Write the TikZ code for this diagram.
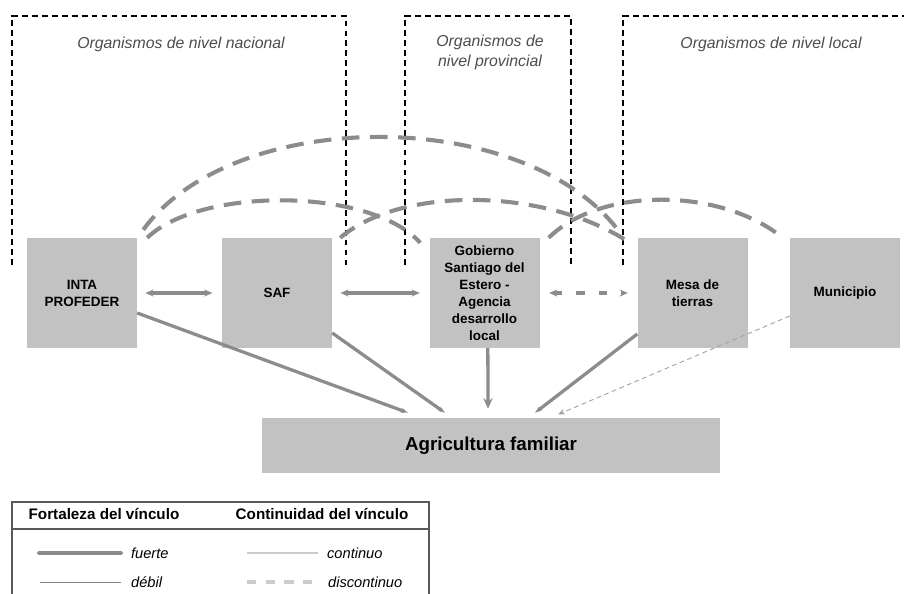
\documentclass[tikz,border=0pt]{standalone}
\usepackage{fontspec}
\setmainfont{Liberation Sans}
\usetikzlibrary{arrows.meta}
\definecolor{cajagris}{gray}{0.76}
\definecolor{lineagris}{gray}{0.55}
\definecolor{textogris}{gray}{0.3}
\tikzset{
  caja/.style={fill=cajagris,inner sep=0pt,minimum width=3.3cm,minimum height=3.3cm,
    align=center,font=\fontsize{11.5}{14.6}\selectfont\bfseries},
  grupo/.style={black,line width=0.9pt,dash pattern=on 5pt off 3.5pt},
  titulo/.style={font=\fontsize{13.5}{17}\selectfont\itshape,text=textogris,align=center},
  fuerte/.style={lineagris,line width=2.8pt,-{Stealth[length=6pt,width=4pt]}},
  doble/.style={lineagris,line width=2.6pt,{Stealth[length=7pt,width=6pt]}-{Stealth[length=7pt,width=6pt]}},
  arco/.style={lineagris,line width=3.5pt,dash pattern=on 15pt off 9pt},
  leyenda/.style={font=\fontsize{12.5}{15}\selectfont\itshape,anchor=west},
}
\begin{document}
\begin{tikzpicture}[x=0.03cm,y=-0.03cm]
  \useasboundingbox (0,0) rectangle (904,593);
  % niveles
  \draw[grupo] (12,265) -- (12,16) -- (346,16) -- (346,265);
  \draw[grupo] (405,265) -- (405,16) -- (571,16) -- (571,265);
  \draw[grupo] (623,265) -- (623,16) -- (904,16);
  \node[titulo] (nacional) at (181,44) {Organismos de nivel nacional};
  \node[titulo] (provincial) at (490,52) {Organismos de\\nivel provincial};
  \node[titulo] (local) at (771,44) {Organismos de nivel local};
  % organismos
  \node[caja] (inta) at (82,293) {INTA\\PROFEDER};
  \node[caja] (saf) at (277,293) {SAF};
  \node[caja] (gob) at (484.5,293) {Gobierno\\Santiago del\\Estero -\\Agencia\\desarrollo\\local};
  \node[caja] (mesa) at (692.5,293) {Mesa de\\tierras};
  \node[caja] (muni) at (845,293) {Municipio};
  \node[caja,minimum width=13.74cm,minimum height=1.65cm,
    font=\fontsize{16}{19}\selectfont\bfseries] (agri) at (491,445.5) {Agricultura familiar};
  % vinculos horizontales
  \draw[doble,shorten <=7pt,shorten >=8pt] (inta.east) -- (saf.west);
  \draw[doble,shorten <=7pt,shorten >=8pt] (saf.east) -- (gob.west);
  \draw[doble,dash pattern=on 7pt off 12pt,shorten <=8pt,shorten >=8pt] (gob.east) -- (mesa.west);
  % vinculos con la agricultura familiar
  \draw[fuerte] ([yshift=-0.6cm]inta.east) -- ([xshift=-2.49cm,yshift=0.15cm]agri.north);
  \draw[fuerte] ([yshift=-1.2cm]saf.east) -- ([xshift=-1.38cm,yshift=0.15cm]agri.north);
  \draw[fuerte,-{Stealth[length=9pt,width=8pt]}] ([xshift=0.1cm]gob.south) -- ([xshift=-0.09cm,yshift=0.27cm]agri.north);
  \draw[fuerte] ([yshift=-1.23cm]mesa.west) -- ([xshift=1.32cm,yshift=0.15cm]agri.north);
  \draw[lineagris!80,line width=0.8pt,dash pattern=on 4pt off 3pt,-{Stealth[length=6pt,width=5pt]}]
    ([yshift=-0.69cm]muni.west) -- ([xshift=2.01cm,yshift=0.1cm]agri.north);
  % arcos discontinuos
  \draw[arco] ([xshift=0.18cm,yshift=0.24cm]inta.north east) .. controls (235,105) and (530,105) .. ([xshift=-0.45cm,yshift=0.06cm]mesa.north west);
  \draw[arco] ([xshift=0.3cm]inta.north east) .. controls (200,187) and (370,187) .. ([xshift=-0.27cm,yshift=-0.15cm]gob.north west);
  \draw[arco] ([xshift=0.24cm]saf.north east) .. controls (400,187) and (540,187) .. ([xshift=-0.36cm,yshift=-0.06cm]mesa.north west);
  \draw[arco] ([xshift=0.27cm]gob.north east) .. controls (600,187) and (720,187) .. ([xshift=-0.21cm]muni.north west);
  % leyenda
  \draw[gray!70!black,line width=0.9pt] (12,600) -- (12,502) -- (429,502) -- (429,600);
  \draw[gray!70!black,line width=0.9pt] (12,529) -- (429,529);
  \node[font=\fontsize{13}{15}\selectfont\bfseries] (fortaleza) at (104,514) {Fortaleza del vínculo};
  \node[font=\fontsize{13}{15}\selectfont\bfseries] (continuidad) at (322,514) {Continuidad del vínculo};
  \draw[lineagris,line width=3.2pt,line cap=round] (39,553) -- (121,553);
  \node[leyenda] (lfuerte) at (127,553) {fuerte};
  \draw[gray,line width=0.6pt] (40,582) -- (121,582);
  \node[leyenda] (ldebil) at (127,582) {débil};
  \draw[gray!40,line width=1.4pt] (247,553) -- (318,553);
  \node[leyenda] (lcontinuo) at (323,553) {continuo};
  \draw[gray!40,line width=2.6pt,dash pattern=on 8pt off 8pt] (247,582) -- (312,582);
  \node[leyenda] (ldiscontinuo) at (324,582) {discontinuo};
\end{tikzpicture}
\end{document}
